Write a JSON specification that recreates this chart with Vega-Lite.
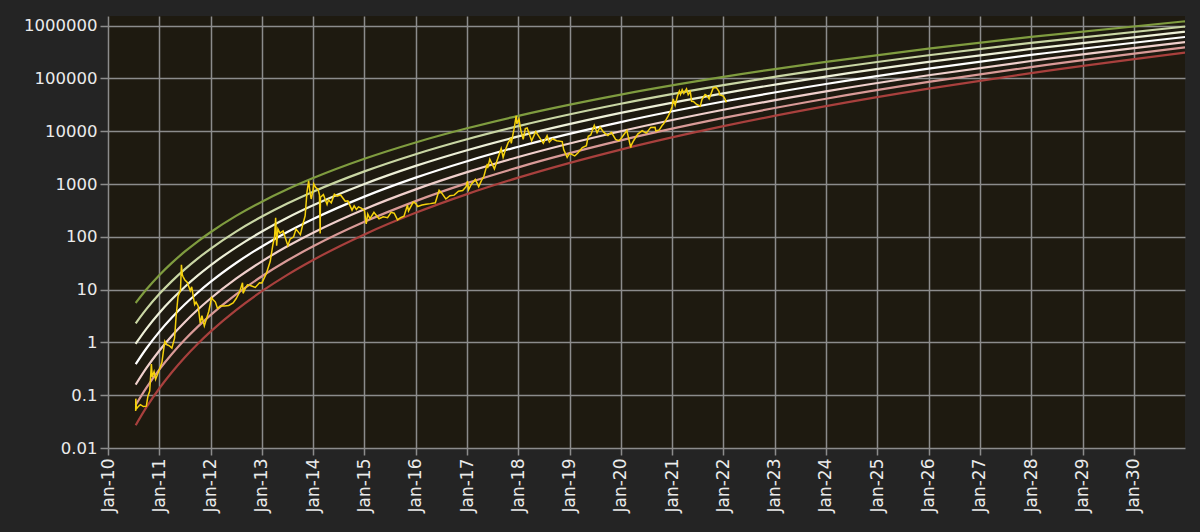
{
  "$schema": "https://vega.github.io/schema/vega-lite/v6.json",
  "width": 1077,
  "height": 432,
  "autosize": {"type": "none"},
  "padding": {"left": 108, "top": 16, "right": 15, "bottom": 84},
  "background": "#242424",
  "config": {
    "view": {"fill": "#1e1a10", "stroke": null},
    "font": "DejaVu Sans",
    "axis": {
      "domain": false,
      "grid": true,
      "gridColor": "#8c8c8c",
      "gridWidth": 1.5,
      "gridOpacity": 1,
      "tickColor": "#8c8c8c",
      "tickWidth": 1.5,
      "tickSize": 7,
      "labelColor": "#ebebeb",
      "labelFontSize": 16.5,
      "labelPadding": 3,
      "title": null
    }
  },
  "datasets": {
    "bands": [
      {"date": "2010-07-17", "b0": 5.57, "b1": 2.29, "b2": 0.942, "b3": 0.387, "b4": 0.159, "b5": 0.0655, "b6": 0.0269},
      {"date": "2010-10-01", "b0": 10.03, "b1": 4.26, "b2": 1.807, "b3": 0.767, "b4": 0.3256, "b5": 0.1382, "b6": 0.0586},
      {"date": "2011-01-01", "b0": 18.73, "b1": 8.22, "b2": 3.61, "b3": 1.584, "b4": 0.695, "b5": 0.3053, "b6": 0.134},
      {"date": "2011-04-01", "b0": 32.04, "b1": 14.48, "b2": 6.54, "b3": 2.954, "b4": 1.335, "b5": 0.6026, "b6": 0.2724},
      {"date": "2011-07-01", "b0": 52.2, "b1": 24.2, "b2": 11.22, "b3": 5.205, "b4": 2.414, "b5": 1.119, "b6": 0.519},
      {"date": "2011-10-01", "b0": 81.4, "b1": 38.66, "b2": 18.37, "b3": 8.72, "b4": 4.144, "b5": 1.968, "b6": 0.935},
      {"date": "2012-01-01", "b0": 122.1, "b1": 59.3, "b2": 28.78, "b3": 13.98, "b4": 6.785, "b5": 3.294, "b6": 1.599},
      {"date": "2012-07-01", "b0": 248.7, "b1": 125.4, "b2": 63.27, "b3": 31.92, "b4": 16.1, "b5": 8.12, "b6": 4.097},
      {"date": "2013-01-01", "b0": 463, "b1": 241.5, "b2": 126.0, "b3": 65.7, "b4": 34.28, "b5": 17.88, "b6": 9.33},
      {"date": "2013-07-01", "b0": 793.9, "b1": 426.3, "b2": 229.0, "b3": 122.9, "b4": 66.03, "b5": 35.46, "b6": 19.04},
      {"date": "2014-01-01", "b0": 1296, "b1": 714.5, "b2": 393.9, "b3": 217.2, "b4": 119.7, "b5": 66.0, "b6": 36.39},
      {"date": "2015-01-01", "b0": 3006, "b1": 1734, "b2": 1000, "b3": 577, "b4": 333, "b5": 192.1, "b6": 110.8},
      {"date": "2016-01-01", "b0": 6124, "b1": 3671, "b2": 2201, "b3": 1319, "b4": 791, "b5": 474.3, "b6": 284.3},
      {"date": "2017-01-01", "b0": 11360, "b1": 7039, "b2": 4362, "b3": 2703, "b4": 1675, "b5": 1038, "b6": 643.5},
      {"date": "2018-01-01", "b0": 19550, "b1": 12470, "b2": 7960, "b3": 5079, "b4": 3241, "b5": 2068, "b6": 1319},
      {"date": "2020-01-01", "b0": 49320, "b1": 33070, "b2": 22180, "b3": 14880, "b4": 9977, "b5": 6692, "b6": 4488},
      {"date": "2022-01-01", "b0": 106600, "b1": 74560, "b2": 52130, "b3": 36450, "b4": 25490, "b5": 17820, "b6": 12460},
      {"date": "2024-01-01", "b0": 206200, "b1": 149500, "b2": 108200, "b3": 78410, "b4": 56800, "b5": 41150, "b6": 29810},
      {"date": "2026-01-01", "b0": 367400, "b1": 274500, "b2": 205100, "b3": 153300, "b4": 114600, "b5": 85630, "b6": 63990},
      {"date": "2028-01-01", "b0": 613200, "b1": 471100, "b2": 361900, "b3": 278000, "b4": 213600, "b5": 164100, "b6": 126100},
      {"date": "2031-01-01", "b0": 1205000, "b1": 960100, "b2": 764800, "b3": 609400, "b4": 485500, "b5": 386800, "b6": 308100}
    ],
    "price": [
      {"date": "2010-07-17", "value": 0.05},
      {"date": "2010-07-18", "value": 0.086},
      {"date": "2010-07-22", "value": 0.055},
      {"date": "2010-08-05", "value": 0.061},
      {"date": "2010-08-20", "value": 0.066},
      {"date": "2010-09-10", "value": 0.061},
      {"date": "2010-10-01", "value": 0.062},
      {"date": "2010-10-12", "value": 0.095},
      {"date": "2010-10-25", "value": 0.12},
      {"date": "2010-11-06", "value": 0.39},
      {"date": "2010-11-12", "value": 0.22},
      {"date": "2010-11-25", "value": 0.28},
      {"date": "2010-12-06", "value": 0.2},
      {"date": "2010-12-20", "value": 0.25},
      {"date": "2011-01-01", "value": 0.3},
      {"date": "2011-01-20", "value": 0.42},
      {"date": "2011-02-01", "value": 0.72},
      {"date": "2011-02-10", "value": 1.05},
      {"date": "2011-02-25", "value": 0.9},
      {"date": "2011-03-15", "value": 0.86},
      {"date": "2011-04-01", "value": 0.78},
      {"date": "2011-04-20", "value": 1.2},
      {"date": "2011-05-01", "value": 3.1},
      {"date": "2011-05-15", "value": 7.5},
      {"date": "2011-06-01", "value": 9.6},
      {"date": "2011-06-08", "value": 29.6},
      {"date": "2011-06-14", "value": 19},
      {"date": "2011-06-20", "value": 17.5},
      {"date": "2011-07-01", "value": 15.4},
      {"date": "2011-07-20", "value": 13.7},
      {"date": "2011-08-10", "value": 9.5},
      {"date": "2011-08-20", "value": 11.3},
      {"date": "2011-09-10", "value": 5.2},
      {"date": "2011-09-20", "value": 5.8},
      {"date": "2011-10-05", "value": 4.9},
      {"date": "2011-10-20", "value": 2.3},
      {"date": "2011-11-01", "value": 3.2},
      {"date": "2011-11-18", "value": 2.05},
      {"date": "2011-12-05", "value": 2.9},
      {"date": "2011-12-20", "value": 3.9},
      {"date": "2012-01-08", "value": 7},
      {"date": "2012-01-20", "value": 6.4},
      {"date": "2012-02-05", "value": 5.8},
      {"date": "2012-02-20", "value": 4.4},
      {"date": "2012-03-10", "value": 4.9},
      {"date": "2012-04-10", "value": 4.9},
      {"date": "2012-05-10", "value": 5.0},
      {"date": "2012-06-10", "value": 5.6},
      {"date": "2012-07-01", "value": 6.7},
      {"date": "2012-07-25", "value": 8.8},
      {"date": "2012-08-16", "value": 13.5},
      {"date": "2012-08-20", "value": 8.5},
      {"date": "2012-09-05", "value": 10.5},
      {"date": "2012-09-20", "value": 12.3},
      {"date": "2012-10-15", "value": 11.8},
      {"date": "2012-11-15", "value": 11},
      {"date": "2012-12-15", "value": 13.5},
      {"date": "2013-01-01", "value": 13.4},
      {"date": "2013-02-01", "value": 20},
      {"date": "2013-03-01", "value": 34},
      {"date": "2013-03-20", "value": 70},
      {"date": "2013-04-01", "value": 100},
      {"date": "2013-04-09", "value": 230},
      {"date": "2013-04-16", "value": 68},
      {"date": "2013-04-25", "value": 140},
      {"date": "2013-05-10", "value": 117},
      {"date": "2013-06-01", "value": 129},
      {"date": "2013-07-05", "value": 68},
      {"date": "2013-07-20", "value": 90},
      {"date": "2013-08-15", "value": 100},
      {"date": "2013-09-01", "value": 140},
      {"date": "2013-10-02", "value": 110},
      {"date": "2013-10-20", "value": 175},
      {"date": "2013-11-05", "value": 250},
      {"date": "2013-11-18", "value": 700},
      {"date": "2013-11-30", "value": 1150},
      {"date": "2013-12-08", "value": 760},
      {"date": "2013-12-18", "value": 520},
      {"date": "2013-12-31", "value": 750},
      {"date": "2014-01-05", "value": 1000},
      {"date": "2014-01-20", "value": 850},
      {"date": "2014-02-05", "value": 800},
      {"date": "2014-02-15", "value": 620},
      {"date": "2014-02-20", "value": 115},
      {"date": "2014-02-22", "value": 560},
      {"date": "2014-03-15", "value": 630},
      {"date": "2014-04-10", "value": 410},
      {"date": "2014-04-20", "value": 500},
      {"date": "2014-05-10", "value": 440},
      {"date": "2014-06-01", "value": 640},
      {"date": "2014-06-20", "value": 590},
      {"date": "2014-07-15", "value": 620},
      {"date": "2014-08-18", "value": 470},
      {"date": "2014-09-05", "value": 480},
      {"date": "2014-10-05", "value": 320},
      {"date": "2014-10-20", "value": 385},
      {"date": "2014-11-05", "value": 330},
      {"date": "2014-11-20", "value": 370},
      {"date": "2014-12-10", "value": 350},
      {"date": "2015-01-01", "value": 315},
      {"date": "2015-01-14", "value": 175},
      {"date": "2015-01-25", "value": 270},
      {"date": "2015-02-10", "value": 220},
      {"date": "2015-03-10", "value": 290},
      {"date": "2015-04-15", "value": 220},
      {"date": "2015-05-15", "value": 240},
      {"date": "2015-06-15", "value": 230},
      {"date": "2015-07-10", "value": 290},
      {"date": "2015-08-01", "value": 280},
      {"date": "2015-08-25", "value": 210},
      {"date": "2015-09-15", "value": 230},
      {"date": "2015-10-10", "value": 245},
      {"date": "2015-11-04", "value": 400},
      {"date": "2015-11-11", "value": 310},
      {"date": "2015-12-15", "value": 455},
      {"date": "2016-01-01", "value": 432},
      {"date": "2016-01-15", "value": 375},
      {"date": "2016-02-15", "value": 400},
      {"date": "2016-03-15", "value": 415},
      {"date": "2016-04-15", "value": 425},
      {"date": "2016-05-20", "value": 440},
      {"date": "2016-06-16", "value": 760},
      {"date": "2016-07-05", "value": 670},
      {"date": "2016-08-03", "value": 520},
      {"date": "2016-09-01", "value": 600},
      {"date": "2016-10-01", "value": 615},
      {"date": "2016-11-01", "value": 730},
      {"date": "2016-12-01", "value": 755},
      {"date": "2016-12-25", "value": 890},
      {"date": "2017-01-04", "value": 1130},
      {"date": "2017-01-12", "value": 780},
      {"date": "2017-02-01", "value": 990},
      {"date": "2017-03-01", "value": 1220},
      {"date": "2017-03-25", "value": 890},
      {"date": "2017-04-15", "value": 1180},
      {"date": "2017-05-01", "value": 1400},
      {"date": "2017-05-25", "value": 2400},
      {"date": "2017-05-28", "value": 2000},
      {"date": "2017-06-12", "value": 2950},
      {"date": "2017-07-15", "value": 1930},
      {"date": "2017-08-01", "value": 2700},
      {"date": "2017-09-01", "value": 4700},
      {"date": "2017-09-15", "value": 3200},
      {"date": "2017-10-01", "value": 4400},
      {"date": "2017-10-20", "value": 6000},
      {"date": "2017-11-07", "value": 7100},
      {"date": "2017-11-12", "value": 5900},
      {"date": "2017-12-01", "value": 10800},
      {"date": "2017-12-17", "value": 19500},
      {"date": "2017-12-22", "value": 13800},
      {"date": "2018-01-06", "value": 17100},
      {"date": "2018-01-17", "value": 11000},
      {"date": "2018-02-05", "value": 7000},
      {"date": "2018-02-20", "value": 11200},
      {"date": "2018-03-05", "value": 11500},
      {"date": "2018-04-06", "value": 6600},
      {"date": "2018-05-05", "value": 9800},
      {"date": "2018-06-28", "value": 5900},
      {"date": "2018-07-25", "value": 8200},
      {"date": "2018-08-10", "value": 6200},
      {"date": "2018-09-01", "value": 7200},
      {"date": "2018-10-01", "value": 6600},
      {"date": "2018-11-10", "value": 6350},
      {"date": "2018-11-20", "value": 4500},
      {"date": "2018-12-15", "value": 3200},
      {"date": "2019-01-01", "value": 3800},
      {"date": "2019-02-07", "value": 3400},
      {"date": "2019-03-01", "value": 3850},
      {"date": "2019-04-02", "value": 4900},
      {"date": "2019-05-01", "value": 5300},
      {"date": "2019-05-14", "value": 8000},
      {"date": "2019-06-01", "value": 8500},
      {"date": "2019-06-26", "value": 12900},
      {"date": "2019-07-16", "value": 9400},
      {"date": "2019-08-06", "value": 11900},
      {"date": "2019-09-01", "value": 9600},
      {"date": "2019-09-24", "value": 8500},
      {"date": "2019-10-01", "value": 8300},
      {"date": "2019-10-26", "value": 9500},
      {"date": "2019-11-25", "value": 7000},
      {"date": "2019-12-17", "value": 6600},
      {"date": "2020-01-01", "value": 7200},
      {"date": "2020-02-13", "value": 10300},
      {"date": "2020-03-12", "value": 4900},
      {"date": "2020-03-15", "value": 5400},
      {"date": "2020-04-01", "value": 6600},
      {"date": "2020-05-01", "value": 8800},
      {"date": "2020-06-01", "value": 10200},
      {"date": "2020-07-01", "value": 9200},
      {"date": "2020-08-01", "value": 11800},
      {"date": "2020-09-01", "value": 11900},
      {"date": "2020-09-07", "value": 10100},
      {"date": "2020-10-01", "value": 10600},
      {"date": "2020-10-21", "value": 12800},
      {"date": "2020-11-01", "value": 13800},
      {"date": "2020-12-01", "value": 18800},
      {"date": "2020-12-17", "value": 23000},
      {"date": "2021-01-01", "value": 29400},
      {"date": "2021-01-08", "value": 40800},
      {"date": "2021-01-22", "value": 31000},
      {"date": "2021-02-08", "value": 46400},
      {"date": "2021-02-21", "value": 57500},
      {"date": "2021-03-01", "value": 49600},
      {"date": "2021-03-13", "value": 61200},
      {"date": "2021-03-25", "value": 52000},
      {"date": "2021-04-13", "value": 63500},
      {"date": "2021-04-25", "value": 49000},
      {"date": "2021-05-10", "value": 56000},
      {"date": "2021-05-19", "value": 37000},
      {"date": "2021-06-01", "value": 36700},
      {"date": "2021-06-22", "value": 32500},
      {"date": "2021-07-20", "value": 29800},
      {"date": "2021-08-01", "value": 39800},
      {"date": "2021-08-23", "value": 49500},
      {"date": "2021-09-07", "value": 46800},
      {"date": "2021-09-21", "value": 41000},
      {"date": "2021-10-20", "value": 66000},
      {"date": "2021-11-10", "value": 67500},
      {"date": "2021-11-30", "value": 57000},
      {"date": "2021-12-04", "value": 49000},
      {"date": "2021-12-31", "value": 46300},
      {"date": "2022-01-10", "value": 41800},
      {"date": "2022-01-22", "value": 35200}
    ]
  },
  "encoding": {
    "x": {
      "field": "date",
      "type": "temporal",
      "scale": {
        "type": "utc",
        "domain": [
          {"year": 2010, "month": 1, "date": 1, "utc": true},
          {"year": 2030, "month": 12, "date": 31, "hours": 23, "utc": true}
        ]
      },
      "axis": {
        "format": "%b-%y",
        "labelAngle": -90,
        "labelFontSize": 17,
        "tickCount": {"interval": "year", "step": 1}
      }
    },
    "y": {
      "field": "value",
      "type": "quantitative",
      "scale": {"type": "log", "domain": [0.01, 1520000], "nice": false},
      "axis": {
        "values": [0.01, 0.1, 1, 10, 100, 1000, 10000, 100000, 1000000],
        "format": "~f",
        "tickSize": 8
      }
    }
  },
  "layer": [
    {
      "data": {"name": "bands"},
      "transform": [
        {"fold": ["b0", "b1", "b2", "b3", "b4", "b5", "b6"], "as": ["band", "value"]}
      ],
      "mark": {"type": "line", "interpolate": "monotone", "strokeWidth": 2.2, "clip": true},
      "encoding": {
        "color": {
          "field": "band",
          "type": "nominal",
          "scale": {
            "domain": ["b0", "b1", "b2", "b3", "b4", "b5", "b6"],
            "range": ["#7f9c3f", "#c9d6a3", "#eef0d8", "#ffffff", "#f0d0cc", "#d99a97", "#a8403d"]
          },
          "legend": null
        }
      }
    },
    {
      "data": {"name": "price"},
      "mark": {"type": "line", "color": "#f5d10b", "strokeWidth": 1.5, "clip": true},
      "encoding": {}
    }
  ]
}
